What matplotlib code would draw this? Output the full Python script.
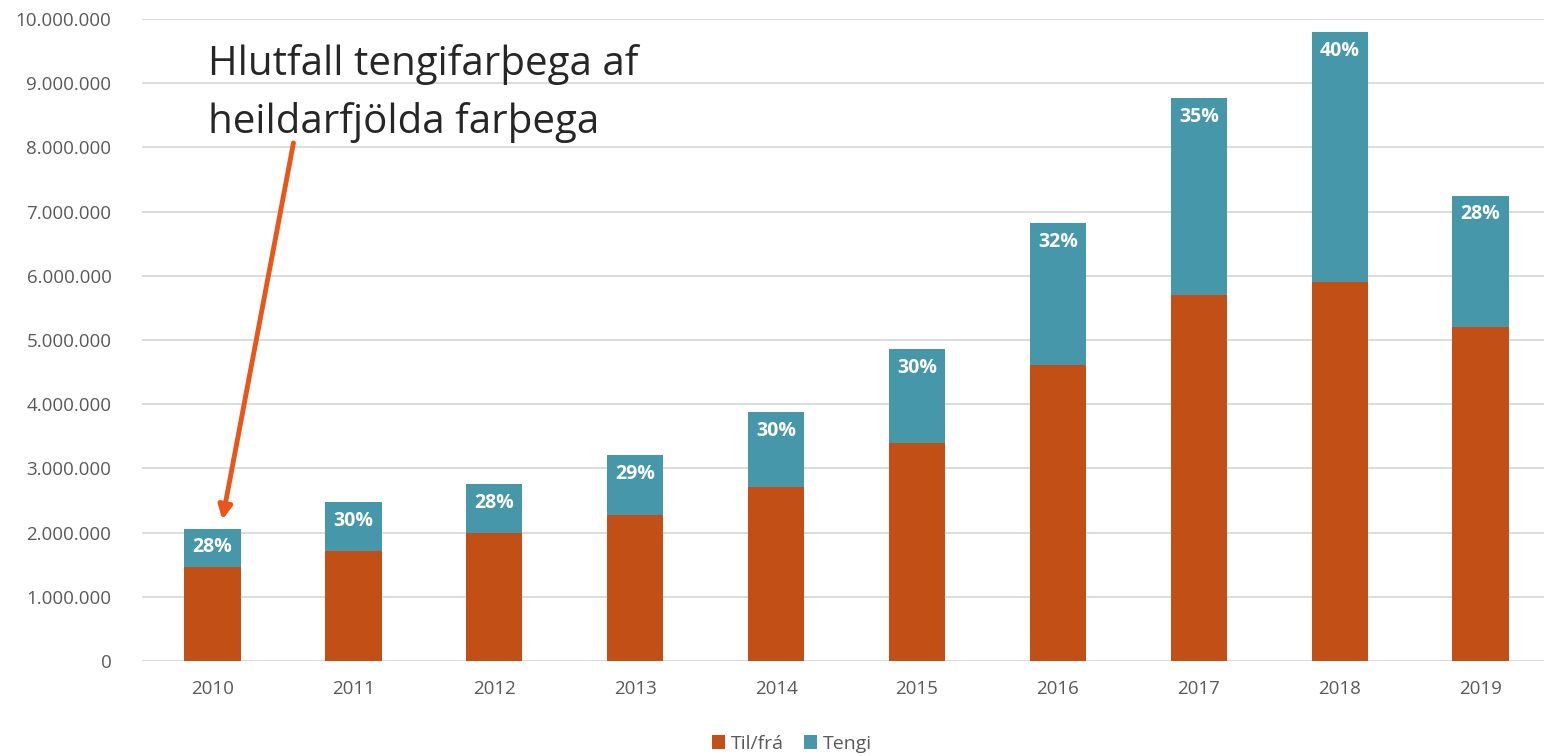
import matplotlib.pyplot as plt
from matplotlib.ticker import FuncFormatter

years = ["2010", "2011", "2012", "2013", "2014", "2015", "2016", "2017", "2018", "2019"]
til_fra = [1.47e6, 1.71e6, 1.99e6, 2.27e6, 2.71e6, 3.40e6, 4.61e6, 5.70e6, 5.91e6, 5.21e6]
tengi = [0.59e6, 0.76e6, 0.76e6, 0.94e6, 1.17e6, 1.46e6, 2.21e6, 3.07e6, 3.89e6, 2.04e6]
pct_labels = ["28%", "30%", "28%", "29%", "30%", "30%", "32%", "35%", "40%", "28%"]

ORANGE = "#C24F16"
TEAL = "#4697AA"


def main():
    plt.rcParams["font.family"] = ["Open Sans", "DejaVu Sans"]
    fig = plt.figure(figsize=(15.44, 7.56), dpi=100)
    ax = fig.add_axes([142 / 1544, 1 - 661 / 756, 1 - 142 / 1544, (661 - 19) / 756])

    x = list(range(len(years)))
    ax.bar(x, til_fra, width=0.4, color=ORANGE, label="Til/frá", zorder=3)
    bars = ax.bar(x, tengi, width=0.4, bottom=til_fra, color=TEAL, label="Tengi", zorder=3)

    for rect, lab in zip(bars, pct_labels):
        top = rect.get_y() + rect.get_height()
        ax.annotate(lab, (rect.get_x() + rect.get_width() / 2, top),
                    xytext=(0, -13.5), textcoords="offset points",
                    ha="center", va="center", color="white",
                    fontsize=14, fontweight="bold", zorder=4)

    ax.set_xlim(-0.5, 9.45)
    ax.set_ylim(0, 10e6)
    ax.set_yticks([i * 1e6 for i in range(11)])
    ax.yaxis.set_major_formatter(FuncFormatter(lambda v, p: f"{int(v):,}".replace(",", ".")))
    ax.set_xticks(x)
    ax.set_xticklabels(years)
    ax.tick_params(axis="both", length=0, labelsize=13.5, labelcolor="#595959")
    ax.tick_params(axis="x", pad=14)
    ax.tick_params(axis="y", pad=22)
    ax.grid(axis="y", color="#D9D9D9", linewidth=1.3, zorder=0)
    for s in ax.spines.values():
        s.set_visible(False)

    ax.text(-0.035, 9.13e6, "Hlutfall tengifarþega af", fontsize=29,
            color="#262626", va="baseline", ha="left")
    ax.text(-0.035, 8.23e6, "heildarfjölda farþega", fontsize=29,
            color="#262626", va="baseline", ha="left")
    ax.annotate("", xy=(0.07, 2.2e6), xytext=(0.575, 8.07e6),
                arrowprops=dict(arrowstyle="-|>,head_length=0.8,head_width=0.4",
                                color="#E8561A", lw=3.5, shrinkA=0, shrinkB=0))

    fig.legend(loc="center", bbox_to_anchor=(792 / 1544, 1 - 744 / 756), ncol=2,
               frameon=False, fontsize=14, handlelength=0.7, handleheight=0.7,
               handletextpad=0.3, columnspacing=1.0, labelcolor="#595959")

    plt.savefig("out.png")


if __name__ == "__main__":
    main()
